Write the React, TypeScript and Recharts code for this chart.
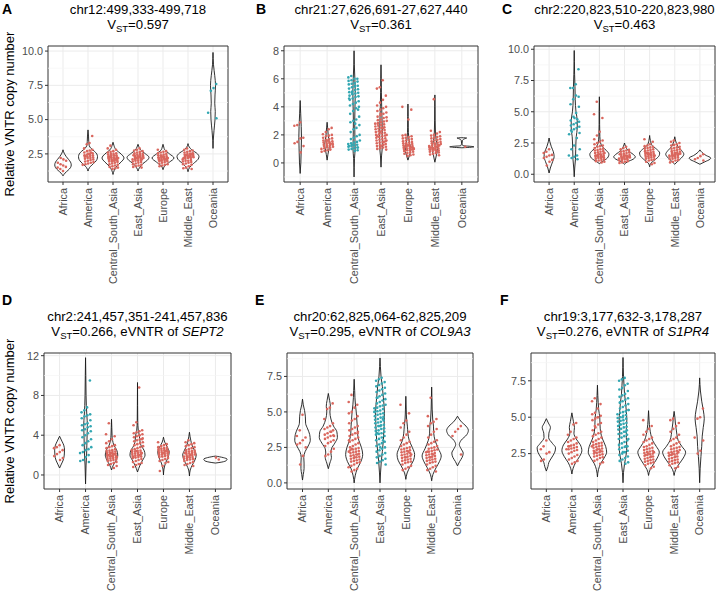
import React from 'react';
import { ComposedChart, XAxis, YAxis, Line, Scatter, ReferenceLine, ReferenceArea, CartesianGrid } from 'recharts';

const FONT = "'Liberation Sans', Arial, Helvetica, sans-serif";
const CATEGORIES = ['Africa', 'America', 'Central_South_Asia', 'East_Asia', 'Europe', 'Middle_East', 'Oceania'];
const CAT_POS = [1, 2, 3, 4, 5, 6, 7];
const RED = '#DA675E';
const TEAL = '#32A7B2';

// ---------- Panel A ----------
const A_TITLE = 'chr12:499,333-499,718';
const A_VST = '0.597';
const A_YTICKS = [2.5, 5, 7.5, 10];
const A_HIGH = 6;
const A_VIOLIN = [
  [[0.9, 0], [1.1, 0.08], [1.3, 0.2], [1.5, 0.3], [1.7, 0.33], [1.9, 0.3], [2.1, 0.22], [2.3, 0.13], [2.5, 0.06], [2.8, 0]],
  [[1.25, 0], [1.5, 0.06], [1.7, 0.16], [1.9, 0.28], [2.1, 0.36], [2.3, 0.38], [2.5, 0.35], [2.7, 0.25], [2.9, 0.12], [3.1, 0.05], [3.4, 0.03], [3.8, 0.02], [4.25, 0]],
  [[1.0, 0], [1.3, 0.05], [1.6, 0.15], [1.9, 0.32], [2.2, 0.44], [2.5, 0.32], [2.8, 0.12], [3.1, 0.04], [3.35, 0]],
  [[1.25, 0], [1.5, 0.06], [1.8, 0.2], [2.05, 0.38], [2.25, 0.44], [2.5, 0.3], [2.8, 0.1], [3.0, 0.04], [3.2, 0]],
  [[1.35, 0], [1.6, 0.06], [1.9, 0.26], [2.2, 0.44], [2.5, 0.26], [2.8, 0.07], [3.0, 0.03], [3.2, 0]],
  [[1.2, 0], [1.5, 0.06], [1.8, 0.22], [2.1, 0.4], [2.3, 0.44], [2.5, 0.38], [2.8, 0.15], [3.0, 0.05], [3.25, 0]],
  [[2.9, 0], [3.5, 0.01], [4.2, 0.04], [5.0, 0.08], [5.6, 0.09], [6.2, 0.07], [6.8, 0.08], [7.5, 0.1], [8.2, 0.07], [9.0, 0.02], [9.9, 0]],
];
const A_POINTS = [
  [1.25, 1.4, 1.5, 1.55, 1.65, 1.75, 1.85, 2.0, 2.1, 2.2],
  [3.8, 3.3, 3.2, 2.9, 2.8, 2.75, 2.7, 2.6, 2.55, 2.5, 2.45, 2.4, 2.4, 2.35, 2.3, 2.3, 2.25, 2.2, 2.2, 2.15, 2.1, 2.05, 2.0, 1.95, 1.9, 1.85, 1.8, 1.75, 1.7, 2.6, 2.5, 2.35],
  [3.1, 2.9, 2.8, 2.7, 2.65, 2.6, 2.55, 2.5, 2.5, 2.45, 2.4, 2.4, 2.35, 2.3, 2.3, 2.25, 2.25, 2.2, 2.2, 2.2, 2.15, 2.15, 2.1, 2.1, 2.05, 2.05, 2.0, 2.0, 1.95, 1.95, 1.9, 1.85, 1.8, 1.75, 1.7, 1.65, 1.6, 1.55, 1.5, 1.45, 1.4, 2.3, 2.2, 2.1, 2.0],
  [2.9, 2.8, 2.75, 2.7, 2.65, 2.6, 2.55, 2.5, 2.5, 2.45, 2.4, 2.4, 2.35, 2.35, 2.3, 2.3, 2.25, 2.25, 2.2, 2.2, 2.15, 2.15, 2.1, 2.1, 2.05, 2.0, 2.0, 1.95, 1.9, 1.85, 1.8, 1.75, 1.7, 1.65, 1.6, 1.55, 1.5, 2.3, 2.2, 2.4, 2.1],
  [2.8, 2.7, 2.65, 2.6, 2.55, 2.5, 2.45, 2.4, 2.4, 2.35, 2.3, 2.3, 2.25, 2.25, 2.2, 2.2, 2.2, 2.15, 2.15, 2.1, 2.1, 2.05, 2.05, 2.0, 2.0, 1.95, 1.9, 1.85, 1.8, 1.75, 1.7, 1.65, 1.6, 2.2, 2.1, 2.3, 2.0],
  [2.9, 2.8, 2.75, 2.7, 2.65, 2.6, 2.55, 2.5, 2.5, 2.45, 2.45, 2.4, 2.4, 2.35, 2.35, 2.3, 2.3, 2.25, 2.25, 2.2, 2.2, 2.15, 2.1, 2.05, 2.0, 2.0, 1.95, 1.9, 1.85, 1.8, 1.75, 1.7, 1.6, 1.5, 1.45, 1.4, 2.3, 2.4, 2.2, 2.5],
  [7.6, 7.3, 7.1, 5.5, 5.1],
];

// ---------- Panel B ----------
const B_TITLE = 'chr21:27,626,691-27,627,440';
const B_VST = '0.361';
const B_YTICKS = [0, 2, 4, 6, 8];
const B_HIGH = 2;
const B_VIOLIN = [
  [[-0.75, 0], [0, 0.025], [1, 0.04], [1.8, 0.05], [2.6, 0.04], [3.5, 0.02], [4.45, 0]],
  [[0.2, 0], [0.6, 0.03], [1.0, 0.07], [1.3, 0.09], [1.6, 0.07], [2.0, 0.04], [2.5, 0.02], [2.9, 0]],
  [[-1.0, 0], [0.3, 0.015], [1.0, 0.04], [2.0, 0.03], [3.0, 0.025], [4.0, 0.035], [5.0, 0.045], [6.0, 0.03], [7.0, 0.01], [8.0, 0]],
  [[-0.3, 0], [0.5, 0.02], [1.2, 0.05], [2.0, 0.05], [3.0, 0.04], [4.0, 0.025], [5.0, 0.015], [6.0, 0.01], [7.0, 0]],
  [[0.2, 0], [0.5, 0.05], [0.8, 0.09], [1.1, 0.1], [1.4, 0.06], [1.8, 0.03], [2.5, 0.012], [3.3, 0.01], [4.2, 0]],
  [[0.05, 0], [0.5, 0.05], [0.9, 0.09], [1.2, 0.09], [1.6, 0.05], [2.2, 0.02], [3.0, 0.01], [4.0, 0.006], [4.85, 0]],
  [[1.08, 0], [1.12, 0.35], [1.15, 0.45], [1.18, 0.35], [1.23, 0.04], [1.4, 0.01], [1.6, 0.02], [1.72, 0.1], [1.78, 0.18], [1.8, 0]],
];
const B_POINTS = [
  [2.9, 2.7, 2.65, 1.8, 1.75, 1.5, 1.4, 1.2, 0.75],
  [2.5, 2.4, 2.2, 2.05, 2.0, 1.95, 1.9, 1.8, 1.75, 1.7, 1.65, 1.6, 1.55, 1.5, 1.5, 1.45, 1.4, 1.4, 1.35, 1.3, 1.3, 1.25, 1.2, 1.2, 1.15, 1.1, 1.1, 1.05, 1.0, 0.95, 0.9, 0.85, 0.8, 1.35, 1.6],
  [6.2, 6.1, 6.0, 6.0, 5.9, 5.85, 5.8, 5.7, 5.65, 5.6, 5.5, 5.45, 5.4, 5.3, 5.25, 5.2, 5.1, 5.05, 5.0, 4.95, 4.9, 4.8, 4.75, 4.7, 4.6, 4.5, 4.4, 4.3, 4.2, 4.1, 4.0, 3.9, 3.7, 3.5, 3.3, 3.1, 3.0, 2.9, 2.7, 2.5, 2.4, 2.2, 2.0, 1.9, 1.8, 1.7, 1.6, 1.5, 1.45, 1.4, 1.35, 1.3, 1.25, 1.2, 1.15, 1.1, 1.05, 1.0, 0.95, 0.9, 0.85, 1.3, 1.2, 1.1, 5.5, 5.0, 4.6, 3.8, 2.8],
  [5.9, 5.4, 5.3, 4.8, 4.5, 4.3, 4.1, 4.0, 3.9, 3.8, 3.7, 3.6, 3.5, 3.4, 3.3, 3.25, 3.2, 3.1, 3.05, 3.0, 2.95, 2.9, 2.85, 2.8, 2.75, 2.7, 2.65, 2.6, 2.55, 2.5, 2.45, 2.4, 2.35, 2.3, 2.25, 2.2, 2.15, 2.1, 2.05, 2.0, 1.95, 1.9, 1.85, 1.8, 1.75, 1.7, 1.65, 1.6, 1.55, 1.5, 1.45, 1.4, 1.35, 1.3, 1.25, 1.2, 1.15, 1.1, 1.05, 1.0, 0.95, 2.5, 2.2, 1.9, 1.6, 1.3, 3.5, 2.8, 2.0, 1.5, 1.2],
  [4.0, 3.8, 3.1, 2.0, 1.95, 1.9, 1.85, 1.8, 1.75, 1.7, 1.65, 1.6, 1.55, 1.5, 1.45, 1.4, 1.4, 1.35, 1.3, 1.3, 1.25, 1.2, 1.2, 1.15, 1.1, 1.1, 1.05, 1.0, 1.0, 0.95, 0.9, 0.9, 0.85, 0.8, 0.75, 0.7, 0.65, 0.6, 0.55, 0.5, 1.15, 1.05, 0.95, 1.25, 0.85, 1.0, 1.1],
  [4.55, 2.3, 2.2, 2.1, 2.0, 1.95, 1.9, 1.85, 1.8, 1.75, 1.7, 1.65, 1.6, 1.55, 1.5, 1.45, 1.4, 1.4, 1.35, 1.3, 1.3, 1.25, 1.2, 1.2, 1.15, 1.1, 1.1, 1.05, 1.0, 1.0, 0.95, 0.9, 0.9, 0.85, 0.8, 0.75, 0.7, 0.65, 0.6, 0.55, 1.15, 1.05, 0.95, 1.25, 0.85, 1.0, 1.1],
  [1.15],
];

// ---------- Panel C ----------
const C_TITLE = 'chr2:220,823,510-220,823,980';
const C_VST = '0.463';
const C_YTICKS = [0, 2.5, 5, 7.5, 10];
const C_HIGH = 1;
const C_VIOLIN = [
  [[0.1, 0], [0.5, 0.05], [1.0, 0.14], [1.4, 0.2], [1.8, 0.17], [2.2, 0.09], [2.6, 0.03], [2.9, 0]],
  [[-0.2, 0], [0.5, 0.02], [1.2, 0.05], [2.0, 0.06], [3.0, 0.08], [3.7, 0.12], [4.3, 0.12], [5.0, 0.07], [6.0, 0.04], [7.0, 0.03], [8.0, 0.015], [9.0, 0.005], [9.9, 0]],
  [[0.85, 0], [1.0, 0.1], [1.3, 0.32], [1.6, 0.38], [1.9, 0.28], [2.2, 0.12], [2.5, 0.05], [3.0, 0.02], [4.0, 0.01], [5.0, 0.01], [6.2, 0]],
  [[0.8, 0], [1.0, 0.12], [1.2, 0.34], [1.4, 0.43], [1.6, 0.34], [1.9, 0.14], [2.2, 0.05], [2.5, 0]],
  [[0.6, 0], [0.9, 0.06], [1.2, 0.24], [1.5, 0.38], [1.7, 0.4], [2.0, 0.28], [2.3, 0.1], [2.7, 0.03], [3.1, 0]],
  [[0.8, 0], [1.0, 0.1], [1.3, 0.26], [1.6, 0.36], [1.9, 0.27], [2.2, 0.13], [2.5, 0.06], [3.0, 0]],
  [[0.8, 0], [1.0, 0.2], [1.2, 0.4], [1.3, 0.43], [1.5, 0.25], [1.75, 0.08], [1.95, 0]],
];
const C_POINTS = [
  [2.0, 1.8, 1.7, 1.55, 1.5, 1.4, 1.3, 1.15, 1.0, 0.7],
  [8.4, 7.2, 6.9, 6.9, 6.2, 6.3, 6.0, 5.6, 5.4, 4.9, 4.6, 4.3, 4.2, 4.1, 4.0, 3.9, 3.8, 3.7, 3.6, 3.5, 3.3, 2.9, 2.3, 2.0, 2.0, 1.5, 1.4, 1.3, 1.5, 4.4, 4.5, 3.4, 3.2, 1.2],
  [5.8, 4.8, 4.5, 3.4, 3.1, 2.8, 2.7, 2.6, 2.5, 2.4, 2.3, 2.25, 2.2, 2.1, 2.05, 2.0, 1.95, 1.9, 1.85, 1.8, 1.75, 1.7, 1.65, 1.6, 1.55, 1.5, 1.5, 1.45, 1.4, 1.4, 1.35, 1.3, 1.3, 1.25, 1.2, 1.15, 1.1, 1.05, 1.0, 0.95, 1.6, 1.5, 1.7, 1.4],
  [2.2, 2.1, 2.0, 1.95, 1.9, 1.85, 1.8, 1.75, 1.7, 1.65, 1.6, 1.55, 1.5, 1.5, 1.45, 1.45, 1.4, 1.4, 1.35, 1.35, 1.3, 1.3, 1.25, 1.25, 1.2, 1.2, 1.15, 1.1, 1.05, 1.0, 0.95, 0.9, 1.4, 1.5, 1.3, 1.6],
  [2.8, 2.6, 2.4, 2.3, 2.25, 2.2, 2.15, 2.1, 2.05, 2.0, 1.95, 1.9, 1.85, 1.8, 1.75, 1.7, 1.7, 1.65, 1.6, 1.6, 1.55, 1.5, 1.5, 1.45, 1.4, 1.4, 1.35, 1.3, 1.25, 1.2, 1.15, 1.1, 1.0, 0.9, 0.8, 1.6, 1.7, 1.5],
  [2.7, 2.6, 2.5, 2.4, 2.35, 2.3, 2.2, 2.15, 2.1, 2.05, 2.0, 1.95, 1.9, 1.85, 1.8, 1.75, 1.7, 1.7, 1.65, 1.6, 1.6, 1.55, 1.5, 1.5, 1.45, 1.4, 1.4, 1.35, 1.3, 1.25, 1.2, 1.15, 1.1, 1.0, 0.95, 1.6, 1.7, 1.5],
  [1.6, 1.45, 1.3, 1.2, 1.1],
];

// ---------- Panel D ----------
const D_TITLE = 'chr2:241,457,351-241,457,836';
const D_VST = '0.266';
const D_GENE = 'SEPT2';
const D_YTICKS = [0, 4, 8, 12];
const D_HIGH = 1;
const D_VIOLIN = [
  [[0.7, 0], [1.1, 0.07], [1.5, 0.14], [2.0, 0.18], [2.5, 0.19], [3.0, 0.16], [3.4, 0.09], [3.9, 0]],
  [[-0.9, 0], [1.0, 0.02], [2.0, 0.04], [3.0, 0.05], [4.0, 0.06], [5.0, 0.07], [6.0, 0.05], [7.0, 0.03], [8.0, 0.02], [10.0, 0.01], [11.8, 0]],
  [[0.5, 0], [1.0, 0.07], [1.5, 0.18], [2.0, 0.24], [2.5, 0.2], [3.0, 0.09], [3.5, 0.04], [4.0, 0.02], [4.8, 0.01], [5.6, 0]],
  [[0.3, 0], [1.0, 0.1], [1.5, 0.2], [2.0, 0.29], [2.5, 0.25], [3.0, 0.13], [3.5, 0.09], [4.0, 0.07], [4.5, 0.03], [5.5, 0.01], [7.0, 0.005], [9.3, 0]],
  [[0.0, 0], [0.6, 0.02], [1.2, 0.08], [1.8, 0.18], [2.3, 0.22], [2.8, 0.15], [3.3, 0.05], [3.8, 0]],
  [[-0.1, 0], [0.5, 0.03], [1.0, 0.11], [1.5, 0.21], [2.0, 0.26], [2.5, 0.19], [3.0, 0.1], [3.5, 0.05], [4.3, 0]],
  [[1.2, 0], [1.3, 0.25], [1.45, 0.42], [1.6, 0.45], [1.75, 0.3], [1.9, 0]],
];
const D_POINTS = [
  [3.0, 2.8, 2.7, 2.5, 2.3, 2.1, 1.9, 1.7, 1.5],
  [9.5, 6.8, 6.5, 6.3, 6.1, 6.0, 5.9, 5.7, 5.5, 5.2, 5.1, 5.0, 4.9, 4.8, 4.6, 4.5, 4.4, 4.2, 4.0, 3.8, 3.6, 3.4, 3.2, 3.0, 2.8, 2.6, 2.5, 2.3, 2.2, 2.0, 1.8, 1.5, 1.4, 1.3],
  [5.2, 4.1, 3.9, 3.6, 3.4, 3.2, 3.0, 2.9, 2.8, 2.7, 2.6, 2.5, 2.45, 2.4, 2.35, 2.3, 2.25, 2.2, 2.15, 2.1, 2.05, 2.0, 1.95, 1.9, 1.85, 1.8, 1.75, 1.7, 1.65, 1.6, 1.55, 1.5, 1.45, 1.4, 1.3, 1.2, 1.1, 1.0, 0.9, 0.7, 2.2, 2.0, 1.8, 2.1, 1.9],
  [8.8, 5.3, 5.0, 4.5, 4.4, 4.3, 4.2, 4.1, 4.0, 3.9, 3.8, 3.7, 3.6, 3.5, 3.4, 3.3, 3.2, 3.1, 3.0, 2.9, 2.8, 2.7, 2.6, 2.5, 2.45, 2.4, 2.35, 2.3, 2.25, 2.2, 2.15, 2.1, 2.05, 2.0, 1.95, 1.9, 1.85, 1.8, 1.75, 1.7, 1.6, 1.5, 1.4, 1.3, 1.2, 1.1, 1.0, 0.8, 2.2, 2.0, 2.4, 1.8, 3.6, 4.0],
  [3.3, 3.1, 3.0, 2.9, 2.8, 2.75, 2.7, 2.65, 2.6, 2.55, 2.5, 2.45, 2.4, 2.35, 2.3, 2.25, 2.2, 2.15, 2.1, 2.05, 2.0, 1.95, 1.9, 1.85, 1.8, 1.7, 1.6, 1.5, 1.4, 1.3, 1.2, 0.9, 0.4, 2.3, 2.4, 2.2],
  [3.5, 3.3, 3.2, 3.1, 3.0, 2.9, 2.8, 2.7, 2.6, 2.5, 2.45, 2.4, 2.35, 2.3, 2.25, 2.2, 2.15, 2.1, 2.05, 2.0, 1.95, 1.9, 1.85, 1.8, 1.75, 1.7, 1.65, 1.6, 1.55, 1.5, 1.4, 1.3, 1.2, 1.1, 1.0, 0.9, 2.0, 1.8, 2.2, 1.6],
  [1.55, 1.75],
];

// ---------- Panel E ----------
const E_TITLE = 'chr20:62,825,064-62,825,209';
const E_VST = '0.295';
const E_GENE = 'COL9A3';
const E_YTICKS = [0, 2.5, 5, 7.5];
const E_HIGH = 3;
const E_VIOLIN = [
  [[0.2, 0], [0.6, 0.03], [1.0, 0.06], [1.4, 0.06], [1.8, 0.05], [2.2, 0.1], [2.6, 0.22], [3.0, 0.3], [3.4, 0.28], [3.8, 0.2], [4.2, 0.12], [4.7, 0.11], [5.1, 0.08], [5.5, 0.03], [5.9, 0]],
  [[1.0, 0], [1.4, 0.06], [1.8, 0.12], [2.1, 0.1], [2.4, 0.12], [2.8, 0.25], [3.2, 0.35], [3.6, 0.33], [4.0, 0.2], [4.5, 0.1], [5.0, 0.06], [5.4, 0.08], [5.8, 0.05], [6.3, 0]],
  [[0, 0], [0.5, 0.04], [1.0, 0.12], [1.5, 0.26], [2.0, 0.33], [2.5, 0.28], [3.0, 0.18], [3.5, 0.13], [4.0, 0.12], [4.5, 0.1], [5.0, 0.08], [5.5, 0.05], [6.0, 0.03], [6.5, 0.02], [7.3, 0]],
  [[0, 0], [0.7, 0.02], [1.5, 0.05], [2.2, 0.09], [3.0, 0.13], [4.0, 0.16], [5.0, 0.17], [6.0, 0.13], [6.8, 0.09], [7.5, 0.04], [8.2, 0.015], [8.8, 0]],
  [[0.25, 0], [0.7, 0.05], [1.2, 0.18], [1.6, 0.3], [2.0, 0.34], [2.5, 0.25], [3.0, 0.13], [3.5, 0.08], [4.0, 0.06], [4.5, 0.03], [5.2, 0.015], [6.1, 0]],
  [[0.15, 0], [0.6, 0.05], [1.1, 0.18], [1.5, 0.3], [1.9, 0.37], [2.4, 0.26], [3.0, 0.13], [3.5, 0.08], [4.0, 0.07], [4.5, 0.04], [5.2, 0.02], [6.0, 0.01], [6.75, 0]],
  [[1.2, 0], [1.5, 0.08], [1.8, 0.18], [2.1, 0.22], [2.4, 0.14], [2.7, 0.07], [3.0, 0.14], [3.4, 0.36], [3.7, 0.42], [4.0, 0.33], [4.3, 0.15], [4.7, 0]],
];
const E_POINTS = [
  [4.8, 3.7, 3.3, 3.2, 3.0, 2.8, 2.7, 2.5, 1.9, 1.3],
  [5.6, 5.3, 5.2, 4.5, 4.2, 4.0, 3.9, 3.8, 3.7, 3.6, 3.5, 3.4, 3.35, 3.3, 3.2, 3.1, 3.0, 2.9, 2.8, 2.6, 2.4, 2.2, 2.0, 1.9, 3.3, 3.6],
  [6.2, 5.7, 5.5, 5.3, 5.0, 4.9, 4.7, 4.5, 4.4, 4.2, 4.0, 3.9, 3.8, 3.7, 3.6, 3.5, 3.4, 3.3, 3.2, 3.1, 3.0, 2.9, 2.8, 2.7, 2.6, 2.5, 2.45, 2.4, 2.35, 2.3, 2.25, 2.2, 2.15, 2.1, 2.05, 2.0, 1.95, 1.9, 1.85, 1.8, 1.75, 1.7, 1.65, 1.6, 1.55, 1.5, 1.45, 1.4, 1.3, 1.2, 1.1, 1.0, 0.9, 0.8, 2.2, 2.0, 1.8, 2.4, 3.0, 3.5],
  [7.4, 7.3, 7.2, 7.1, 7.0, 6.9, 6.8, 6.7, 6.6, 6.5, 6.4, 6.3, 6.2, 6.1, 6.0, 5.9, 5.8, 5.7, 5.6, 5.5, 5.45, 5.4, 5.3, 5.25, 5.2, 5.1, 5.05, 5.0, 4.9, 4.85, 4.8, 4.7, 4.65, 4.6, 4.5, 4.45, 4.4, 4.3, 4.25, 4.2, 4.1, 4.05, 4.0, 3.9, 3.85, 3.8, 3.7, 3.65, 3.6, 3.5, 3.45, 3.4, 3.3, 3.2, 3.1, 3.0, 2.9, 2.8, 2.7, 2.6, 2.5, 2.4, 2.3, 2.2, 2.1, 2.0, 1.9, 1.8, 1.7, 1.6, 1.5, 1.4, 1.3, 4.5, 4.0, 3.5, 5.0, 3.0, 2.5, 6.0],
  [5.5, 4.9, 4.4, 4.2, 3.9, 3.6, 3.4, 3.2, 3.0, 2.9, 2.8, 2.7, 2.6, 2.5, 2.45, 2.4, 2.35, 2.3, 2.25, 2.2, 2.15, 2.1, 2.05, 2.0, 1.95, 1.9, 1.85, 1.8, 1.75, 1.7, 1.65, 1.6, 1.55, 1.5, 1.45, 1.4, 1.3, 1.2, 1.1, 1.0, 0.9, 2.0, 2.2, 1.8],
  [6.0, 4.7, 4.5, 4.3, 4.2, 4.0, 3.8, 3.6, 3.4, 3.2, 3.0, 2.9, 2.8, 2.7, 2.6, 2.5, 2.45, 2.4, 2.35, 2.3, 2.25, 2.2, 2.15, 2.1, 2.05, 2.0, 1.95, 1.9, 1.85, 1.8, 1.75, 1.7, 1.65, 1.6, 1.55, 1.5, 1.45, 1.4, 1.3, 1.2, 1.1, 1.0, 0.9, 0.8, 2.0, 1.8, 2.2],
  [4.0, 3.8, 3.6, 3.3, 2.0],
];

// ---------- Panel F ----------
const F_TITLE = 'chr19:3,177,632-3,178,287';
const F_VST = '0.276';
const F_GENE = 'S1PR4';
const F_YTICKS = [2.5, 5, 7.5];
const F_HIGH = 3;
const F_VIOLIN = [
  [[1.3, 0], [1.6, 0.06], [1.9, 0.1], [2.2, 0.2], [2.6, 0.33], [2.9, 0.36], [3.2, 0.24], [3.6, 0.09], [3.9, 0.1], [4.3, 0.16], [4.6, 0.08], [4.9, 0]],
  [[1.1, 0], [1.5, 0.05], [1.9, 0.15], [2.3, 0.3], [2.7, 0.39], [3.1, 0.33], [3.5, 0.17], [3.9, 0.08], [4.3, 0.1], [4.7, 0.06], [5.3, 0]],
  [[0.9, 0], [1.4, 0.04], [1.8, 0.12], [2.2, 0.26], [2.6, 0.36], [3.0, 0.32], [3.5, 0.2], [4.0, 0.12], [4.5, 0.1], [5.0, 0.09], [5.5, 0.05], [6.0, 0.03], [6.5, 0.015], [7.2, 0]],
  [[0.5, 0], [1.2, 0.02], [1.8, 0.06], [2.4, 0.12], [3.0, 0.15], [3.6, 0.13], [4.2, 0.13], [4.8, 0.15], [5.4, 0.13], [6.0, 0.1], [6.6, 0.06], [7.2, 0.04], [7.8, 0.02], [8.4, 0.01], [9.1, 0]],
  [[1.0, 0], [1.4, 0.06], [1.8, 0.2], [2.2, 0.34], [2.6, 0.42], [3.0, 0.3], [3.4, 0.16], [3.8, 0.09], [4.2, 0.05], [4.8, 0.02], [5.45, 0]],
  [[1.0, 0], [1.4, 0.06], [1.8, 0.2], [2.2, 0.36], [2.6, 0.45], [3.0, 0.3], [3.4, 0.16], [3.8, 0.11], [4.2, 0.08], [4.6, 0.05], [5.0, 0.03], [5.4, 0]],
  [[0.5, 0], [1.5, 0.02], [2.3, 0.05], [3.0, 0.08], [3.7, 0.1], [4.3, 0.14], [4.9, 0.18], [5.5, 0.14], [6.1, 0.08], [6.8, 0.03], [7.7, 0]],
];
const F_POINTS = [
  [3.4, 3.0, 2.8, 2.6, 2.5, 2.1, 2.0],
  [4.6, 4.5, 4.0, 3.8, 3.6, 3.5, 3.4, 3.3, 3.2, 3.1, 3.05, 3.0, 2.95, 2.9, 2.85, 2.8, 2.75, 2.7, 2.6, 2.5, 2.4, 2.3, 2.2, 2.1, 2.0, 1.9, 1.8, 3.0, 2.8],
  [6.3, 6.1, 5.9, 5.6, 5.3, 5.2, 5.1, 5.0, 4.9, 4.8, 4.6, 4.5, 4.3, 4.1, 4.0, 3.9, 3.8, 3.7, 3.6, 3.5, 3.4, 3.3, 3.25, 3.2, 3.15, 3.1, 3.05, 3.0, 2.95, 2.9, 2.85, 2.8, 2.75, 2.7, 2.65, 2.6, 2.55, 2.5, 2.45, 2.4, 2.35, 2.3, 2.25, 2.2, 2.1, 2.0, 1.9, 1.8, 2.8, 2.6, 3.0, 2.7, 5.0, 4.4],
  [7.7, 7.6, 7.5, 7.3, 7.2, 7.0, 6.9, 6.8, 6.6, 6.5, 6.4, 6.3, 6.2, 6.1, 6.0, 5.9, 5.8, 5.7, 5.6, 5.5, 5.4, 5.35, 5.3, 5.2, 5.15, 5.1, 5.0, 4.95, 4.9, 4.8, 4.75, 4.7, 4.6, 4.55, 4.5, 4.4, 4.35, 4.3, 4.2, 4.15, 4.1, 4.0, 3.9, 3.85, 3.8, 3.7, 3.6, 3.5, 3.4, 3.3, 3.2, 3.1, 3.0, 2.95, 2.9, 2.8, 2.7, 2.6, 2.5, 2.4, 2.3, 2.2, 2.1, 2.0, 1.9, 1.8, 5.0, 4.5, 3.5, 3.0, 2.6, 6.0, 5.5, 4.0],
  [4.8, 4.4, 4.2, 4.0, 3.8, 3.6, 3.5, 3.4, 3.3, 3.2, 3.1, 3.0, 2.95, 2.9, 2.85, 2.8, 2.75, 2.7, 2.65, 2.6, 2.55, 2.5, 2.45, 2.4, 2.35, 2.3, 2.25, 2.2, 2.15, 2.1, 2.05, 2.0, 1.95, 1.9, 1.85, 1.8, 1.7, 1.6, 1.5, 2.5, 2.4, 2.6, 2.3],
  [4.9, 4.8, 4.6, 4.4, 4.2, 4.0, 3.8, 3.6, 3.5, 3.4, 3.3, 3.2, 3.1, 3.0, 2.95, 2.9, 2.85, 2.8, 2.75, 2.7, 2.65, 2.6, 2.55, 2.5, 2.45, 2.4, 2.35, 2.3, 2.25, 2.2, 2.15, 2.1, 2.05, 2.0, 1.95, 1.9, 1.85, 1.8, 1.7, 1.6, 1.5, 2.5, 2.4, 2.6, 2.3],
  [5.6, 5.0, 4.9, 3.6, 3.4, 2.7, 2.5],
];

// deterministic jitter (presentation only)
const jitter = (i: number, g: number) => {
  const f = (i * 0.7548776662 + g * 0.3819660113 + 0.5) % 1;
  return (f - 0.5) * 0.44;
};

const CatTick = (props: any) => {
  const { x, y, payload } = props;
  const label = CATEGORIES[Math.round(payload.value) - 1];
  const yy = y + 1;
  return (
    <text x={x} y={yy} transform={`rotate(-90, ${x}, ${yy})`} textAnchor="end" dy="0.35em"
      fontSize={10.8} fill="#4D4D4D" fontFamily={FONT}>{label}</text>
  );
};

type PanelProps = {
  l: number; t: number; r: number; b: number;
  yDomain: [number, number]; yTicks: number[]; digits: number;
  violins: number[][][]; points: number[][]; high: number;
  title: string; vst: string; gene?: string; letter: string; letterX: number; letterY: number; titleY: number;
};

function Panel(p: PanelProps) {
  const YW = 40, MT = 4, MR = 2, XH = 110;
  const w = p.r - p.l + YW + MR;
  const h = p.b - p.t + MT + XH;
  const step = p.yTicks[1] - p.yTicks[0];
  const minor = [p.yTicks[0] - step / 2, ...p.yTicks.map((v) => v + step / 2)].filter((v) => v > p.yDomain[0] && v < p.yDomain[1]);
  const cx = (p.l + p.r) / 2;
  return (
    <>
      <div style={{ position: 'absolute', left: p.letterX, top: p.letterY, fontSize: 14, fontWeight: 'bold', fontFamily: FONT, lineHeight: '16px' }}>{p.letter}</div>
      <div style={{ position: 'absolute', left: cx - 160, width: 320, top: p.titleY, textAlign: 'center', fontSize: 13.2, lineHeight: '15px', fontFamily: FONT, color: '#000' }}>
        <div>{p.title}</div>
        <div>
          V<span style={{ fontSize: '0.72em', position: 'relative', top: '0.3em' }}>ST</span>={p.vst}
          {p.gene ? <>, eVNTR of <i>{p.gene}</i></> : null}
        </div>
      </div>
      <div style={{ position: 'absolute', left: p.l - YW, top: p.t - MT }}>
        <ComposedChart width={w} height={h} margin={{ top: MT, right: MR, bottom: 0, left: 0 }}>
          {minor.map((v) => (
            <ReferenceLine key={'mn' + v} y={v} stroke="#F3F3F3" strokeWidth={0.7} />
          ))}
          <CartesianGrid stroke="#EBEBEB" strokeWidth={1} horizontalValues={p.yTicks} verticalValues={CAT_POS} />
          <XAxis type="number" dataKey="x" domain={[0.4, 7.6]} ticks={CAT_POS} interval={0} allowDataOverflow
            axisLine={false} tickSize={3} tickLine={{ stroke: '#333' }} tick={<CatTick />} height={XH} />
          <YAxis type="number" dataKey="y" domain={p.yDomain} ticks={p.yTicks} interval={0} allowDataOverflow
            axisLine={false} tickSize={3} tickLine={{ stroke: '#333' }} width={YW}
            tick={{ fontSize: 10.8, fill: '#4D4D4D', fontFamily: FONT }}
            tickFormatter={(v: number) => v.toFixed(p.digits)} />
          {p.violins.map((prof, g) => {
            const c = g + 1;
            const right = prof.slice().reverse().map(([y, wd]) => ({ x: c + wd, y }));
            const left = prof.slice().reverse().map(([y, wd]) => ({ x: c - wd, y }));
            return [
              <Line key={'vr' + g} data={right} dataKey="y" type="monotoneY" stroke="#1A1A1A" strokeWidth={0.9}
                dot={false} activeDot={false} isAnimationActive={false} legendType="none" />,
              <Line key={'vl' + g} data={left} dataKey="y" type="monotoneY" stroke="#1A1A1A" strokeWidth={0.9}
                dot={false} activeDot={false} isAnimationActive={false} legendType="none" />,
            ];
          })}
          {p.points.map((vals, g) => {
            const c = g + 1;
            const color = g === p.high ? TEAL : RED;
            const data = vals.map((y, i) => ({ x: c + jitter(i, g), y }));
            return (
              <Scatter key={'pt' + g} data={data} isAnimationActive={false} legendType="none"
                shape={(sp: any) => <circle cx={sp.cx} cy={sp.cy} r={1.3} fill={color} />} />
            );
          })}
          <ReferenceArea x1={0.4} x2={7.6} y1={p.yDomain[0]} y2={p.yDomain[1]} fill="none" fillOpacity={0}
            stroke="#333333" strokeWidth={1} ifOverflow="visible" />
        </ComposedChart>
      </div>
    </>
  );
}

const YTitle = ({ cy }: { cy: number }) => (
  <div style={{ position: 'absolute', left: 10 - 100, top: cy - 8, width: 200, height: 16, lineHeight: '16px', textAlign: 'center',
    transform: 'rotate(-90deg)', fontSize: 13, fontFamily: FONT, color: '#000', whiteSpace: 'nowrap' }}>
    Relative VNTR copy number
  </div>
);

export default function App() {
  return (
    <div style={{ position: 'absolute', left: 0, top: 0, width: 718, height: 594, background: '#fff', overflow: 'hidden', fontFamily: FONT }}>
      <YTitle cy={114} />
      <YTitle cy={421} />
      <Panel l={48} t={46} r={228} b={182} yDomain={[0.45, 10.37]} yTicks={A_YTICKS} digits={1}
        violins={A_VIOLIN} points={A_POINTS} high={A_HIGH} title={A_TITLE} vst={A_VST}
        letter="A" letterX={2} letterY={1} titleY={2} />
      <Panel l={284} t={46} r={478} b={182} yDomain={[-1.36, 8.34]} yTicks={B_YTICKS} digits={0}
        violins={B_VIOLIN} points={B_POINTS} high={B_HIGH} title={B_TITLE} vst={B_VST}
        letter="B" letterX={256} letterY={1} titleY={2} />
      <Panel l={534} t={46} r={715} b={182} yDomain={[-0.62, 10.26]} yTicks={C_YTICKS} digits={1}
        violins={C_VIOLIN} points={C_POINTS} high={C_HIGH} title={C_TITLE} vst={C_VST}
        letter="C" letterX={502} letterY={1} titleY={2} />
      <Panel l={44} t={353} r={231} b={489} yDomain={[-1.41, 12.27]} yTicks={D_YTICKS} digits={0}
        violins={D_VIOLIN} points={D_POINTS} high={D_HIGH} title={D_TITLE} vst={D_VST} gene={D_GENE}
        letter="D" letterX={2} letterY={292} titleY={309} />
      <Panel l={287} t={353} r={473} b={489} yDomain={[-0.43, 9.15]} yTicks={E_YTICKS} digits={1}
        violins={E_VIOLIN} points={E_POINTS} high={E_HIGH} title={E_TITLE} vst={E_VST} gene={E_GENE}
        letter="E" letterX={255} letterY={292} titleY={309} />
      <Panel l={531} t={353} r={715} b={489} yDomain={[0.07, 9.41]} yTicks={F_YTICKS} digits={1}
        violins={F_VIOLIN} points={F_POINTS} high={F_HIGH} title={F_TITLE} vst={F_VST} gene={F_GENE}
        letter="F" letterX={500} letterY={292} titleY={309} />
    </div>
  );
}
